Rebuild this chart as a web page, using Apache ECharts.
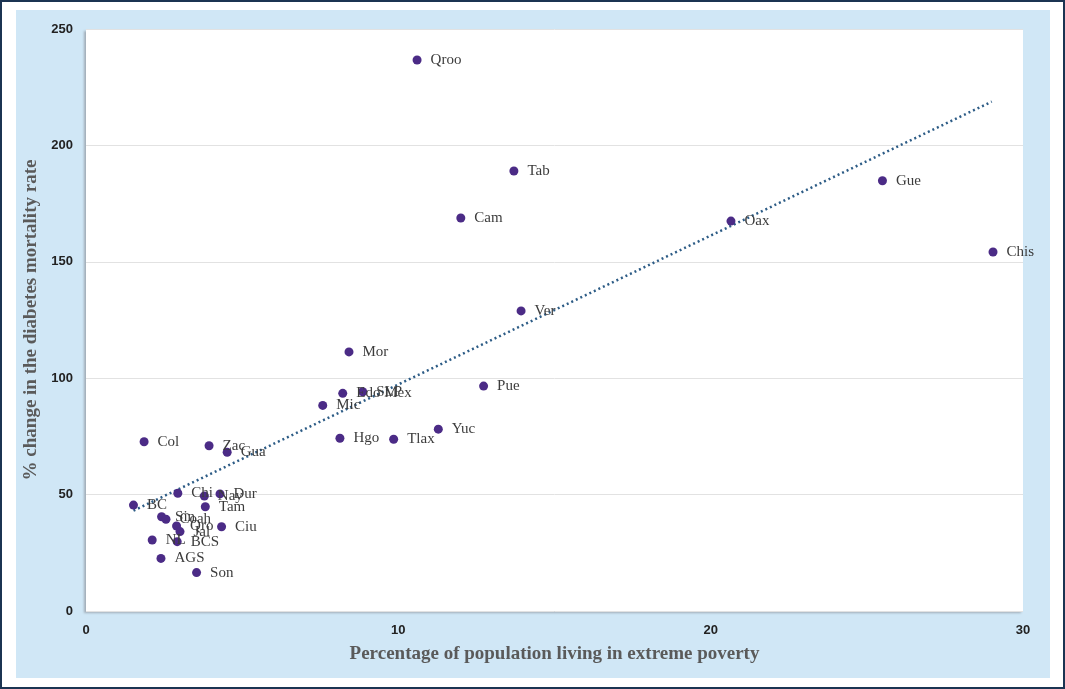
<!DOCTYPE html>
<html>
<head>
<meta charset="utf-8">
<script src="https://cdn.jsdelivr.net/npm/echarts@6/dist/echarts.min.js"></script>
<style>
  html, body { margin: 0; padding: 0; background: #fff; }
  #frame { position: relative; width: 1065px; height: 689px; box-sizing: border-box;
           border: 2px solid #1b3452; background: #fff; }
  #panel { position: absolute; left: 14px; top: 8px; width: 1034px; height: 668px; background: #d0e7f6; }
  #chart { position: absolute; left: -2px; top: -2px; width: 1065px; height: 689px; }
</style>
</head>
<body>
<div id="frame">
  <div id="panel"></div>
  <div id="chart"></div>
</div>
<script>
// states (abbreviations as shown in the chart)
const states = ["Qroo","Tab","Cam","Gue","Oax","Chis","Ver","Mor","Pue","Edo Mex","SLP","Mic",
  "Hgo","Tlax","Yuc","Col","Zac","Gua","Chi","Nay","Dur","BC","Tam","Sin","Coah","Qro","Jal",
  "Ciu","NL","BCS","AGS","Son"];
// % of population living in extreme poverty
const poverty = [10.6,13.7,12.0,25.5,20.65,29.04,13.93,8.42,12.73,8.22,8.86,7.58,
  8.13,9.85,11.28,1.86,3.94,4.52,2.94,3.79,4.29,1.52,3.82,2.42,2.56,2.90,3.01,
  4.34,2.12,2.92,2.40,3.54];
// % change in the diabetes mortality rate
const mortalityChange = [236.7,189.0,168.8,184.8,167.5,154.2,128.9,111.3,96.6,93.5,94.2,88.3,
  74.2,73.8,78.1,72.7,71.0,68.2,50.6,49.4,50.3,45.5,44.8,40.5,39.4,36.5,34.1,
  36.2,30.5,29.8,22.6,16.5];
// linear trend line end points (as drawn)
const trendX = [1.52, 29.0];
const trendY = [43.1, 218.8];

const chart = echarts.init(document.getElementById('chart'), null, {renderer: 'canvas'});

const points = states.map((s, i) => ({name: s, value: [poverty[i], mortalityChange[i]]}));
const trend = trendX.map((x, i) => [x, trendY[i]]);

const option = {
  animation: false,
  backgroundColor: 'transparent',
  grid: {
    left: 86, top: 29, right: 42, bottom: 78,
    show: true,
    backgroundColor: '#ffffff',
    borderWidth: 0,
    shadowColor: 'rgba(150,160,170,0.8)',
    shadowBlur: 2,
    shadowOffsetX: -2,
    shadowOffsetY: 2
  },
  xAxis: {
    type: 'value',
    min: 0, max: 30, interval: 10,
    name: 'Percentage of population living in extreme poverty',
    nameLocation: 'middle',
    nameGap: 34,
    nameTextStyle: {fontFamily: 'Liberation Serif', fontWeight: 'bold', fontSize: 19, color: '#5a5a5a'},
    axisLine: {show: false},
    axisTick: {show: false},
    splitLine: {show: false},
    axisLabel: {margin: 13, fontFamily: 'Liberation Sans', fontWeight: 'bold', fontSize: 13, color: '#222'}
  },
  yAxis: {
    type: 'value',
    min: 0, max: 250, interval: 50,
    name: '% change in the diabetes mortality rate',
    nameLocation: 'middle',
    nameGap: 42,
    nameTextStyle: {fontFamily: 'Liberation Serif', fontWeight: 'bold', fontSize: 19, color: '#5a5a5a'},
    axisLine: {show: false},
    axisTick: {show: false},
    splitLine: {lineStyle: {color: '#e2e2e2', width: 1}},
    axisLabel: {margin: 13, fontFamily: 'Liberation Sans', fontWeight: 'bold', fontSize: 13, color: '#222'}
  },
  series: [
    {
      type: 'line',
      data: trend,
      symbol: 'none',
      silent: true,
      z: 1,
      lineStyle: {color: '#2d5c86', width: 2.5, type: [2, 3]}
    },
    {
      type: 'scatter',
      data: points,
      symbolSize: 9,
      z: 2,
      itemStyle: {color: '#4b2b86', opacity: 1},
      label: {
        show: true,
        position: 'right',
        distance: 9,
        formatter: '{b}',
        fontFamily: 'Liberation Serif',
        fontSize: 15,
        color: '#3c3c3c'
      }
    }
  ]
};
chart.setOption(option);
</script>
</body>
</html>
